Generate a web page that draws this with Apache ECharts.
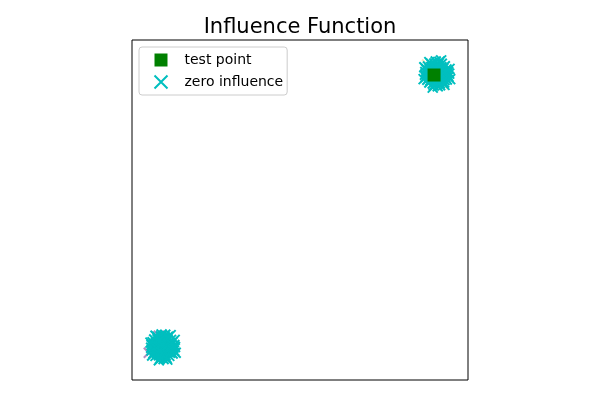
<!DOCTYPE html>
<html><head><meta charset="utf-8">
<script src="https://cdn.jsdelivr.net/npm/echarts@6/dist/echarts.min.js"></script>
<style>html,body{margin:0;padding:0;background:#fff}#c{width:600px;height:400px}</style>
</head><body><div id="c"></div>
<script>
// Test point
var testX = [8.99];
var testY = [8.97];
// Zero-influence points, cluster around the test point
var zeroTopX = [8.98,9.10,9.17, 8.85,8.95,9.06,9.16,9.29, 8.79,8.88,8.99,9.09,9.19,9.30,9.37,
  8.74,8.84,8.93,9.03,9.12,9.22,9.33,9.42, 8.72,8.81,8.91,9.01,9.10,9.19,9.29,9.39,9.44,
  8.73,8.83,8.94,9.04,9.13,9.23,9.32,9.41, 8.76,8.86,8.97,9.07,9.16,9.26,9.36,
  8.81,8.91,9.01,9.11,9.21,9.31, 8.90,9.00,9.12,9.22, 9.04,9.15,
  8.70,9.45,8.95,9.30,8.68,9.20,8.85,9.47];
var zeroTopY = [8.66,8.64,8.67, 8.75,8.72,8.76,8.73,8.75, 8.83,8.81,8.84,8.80,8.83,8.82,8.84,
  8.91,8.89,8.92,8.90,8.88,8.91,8.89,8.92, 8.98,9.00,8.97,8.99,8.96,9.00,8.98,8.97,9.01,
  9.06,9.05,9.08,9.04,9.07,9.05,9.08,9.06, 9.14,9.16,9.13,9.15,9.12,9.15,9.13,
  9.22,9.21,9.24,9.22,9.20,9.23, 9.30,9.31,9.29,9.30, 9.37,9.36,
  9.20,9.15,8.60,8.68,8.85,9.40,9.35,8.85];
// Zero-influence points, far cluster
var zeroBotX = [0.84,0.94,1.03, 0.70,0.80,0.91,1.00,1.11, 0.64,0.74,0.84,0.93,1.03,1.13,1.21,
  0.58,0.68,0.78,0.87,0.97,1.07,1.16,1.25, 0.57,0.66,0.76,0.85,0.95,1.04,1.14,1.23,1.28,
  0.58,0.67,0.78,0.88,0.98,1.07,1.17,1.26, 0.61,0.71,0.81,0.91,1.01,1.11,1.21,
  0.66,0.76,0.86,0.96,1.06,1.16, 0.75,0.86,0.97,1.07, 0.88,0.99,
  0.55,1.30,0.80,1.15,0.60,1.27,0.70,1.05];
var zeroBotY = [0.64,0.62,0.65, 0.71,0.73,0.70,0.72,0.71, 0.79,0.80,0.78,0.81,0.79,0.80,0.78,
  0.87,0.86,0.88,0.87,0.85,0.88,0.86,0.87, 0.95,0.96,0.94,0.97,0.95,0.93,0.96,0.95,0.97,
  1.03,1.04,1.02,1.05,1.03,1.02,1.04,1.03, 1.11,1.10,1.12,1.11,1.13,1.10,1.12,
  1.19,1.20,1.18,1.21,1.19,1.18, 1.27,1.28,1.26,1.27, 1.34,1.33,
  1.10,0.80,0.58,1.32,0.72,1.18,1.30,0.60];
// Other influence markers mostly hidden behind the clusters
var otherX = [8.78,9.00,9.28,0.50,0.80];
var otherY = [9.28,8.66,8.68,0.80,1.30];
var otherCol = ['#ece4b0','#ece4b0','#ece4b0','#a070b0','#a070b0'];

function zip(a,b){var r=[];for(var i=0;i<a.length;i++)r.push([a[i],b[i]]);return r;}
var X = 'path://M0,0L10,10M10,0L0,10';
var chart = echarts.init(document.getElementById('c'), null, {renderer:'canvas'});
chart.setOption({
  animation:false,
  backgroundColor:'#fff',
  title:{text:'Influence Function',left:'center',top:12,
    textStyle:{fontFamily:'DejaVu Sans',fontSize:21,fontWeight:'normal',color:'#000'}},
  grid:{left:132,right:132,top:40,bottom:20,show:true,borderColor:'#000',borderWidth:1,backgroundColor:'#fff'},
  xAxis:{type:'value',min:0,max:10,axisLine:{show:false},axisTick:{show:false},axisLabel:{show:false},splitLine:{show:false}},
  yAxis:{type:'value',min:0,max:10,axisLine:{show:false},axisTick:{show:false},axisLabel:{show:false},splitLine:{show:false}},
  legend:{orient:'vertical',left:139,top:47,padding:[6,4,4,13],itemGap:6,itemWidth:13,itemHeight:13,
    borderColor:'#ccc',borderWidth:1,borderRadius:3,backgroundColor:'rgba(255,255,255,0.8)',
    textStyle:{fontFamily:'DejaVu Sans',fontSize:14,color:'#000',padding:[0,0,0,12]},
    data:[{name:'test point',icon:'rect',itemStyle:{color:'#008000',opacity:1}},
          {name:'zero influence',icon:X,itemStyle:{color:'none',borderColor:'#00BFBF',borderWidth:2}}]},
  series:[
    {type:'scatter',name:'other',symbol:X,symbolSize:10,
      data:zip(otherX,otherY).map(function(p,i){return {value:p,itemStyle:{color:'none',borderColor:otherCol[i],borderWidth:2}};}),
      itemStyle:{color:'none',borderWidth:2},z:1},
    {type:'scatter',name:'zero influence',symbol:X,symbolSize:10,
      data:zip(zeroTopX,zeroTopY).concat(zip(zeroBotX,zeroBotY)),
      itemStyle:{color:'none',borderColor:'#00BFBF',borderWidth:2,opacity:1},z:2},
    {type:'scatter',name:'test point',symbol:'rect',symbolSize:13,
      data:zip(testX,testY),itemStyle:{color:'#008000',opacity:1},z:3}
  ]
});
</script></body></html>
